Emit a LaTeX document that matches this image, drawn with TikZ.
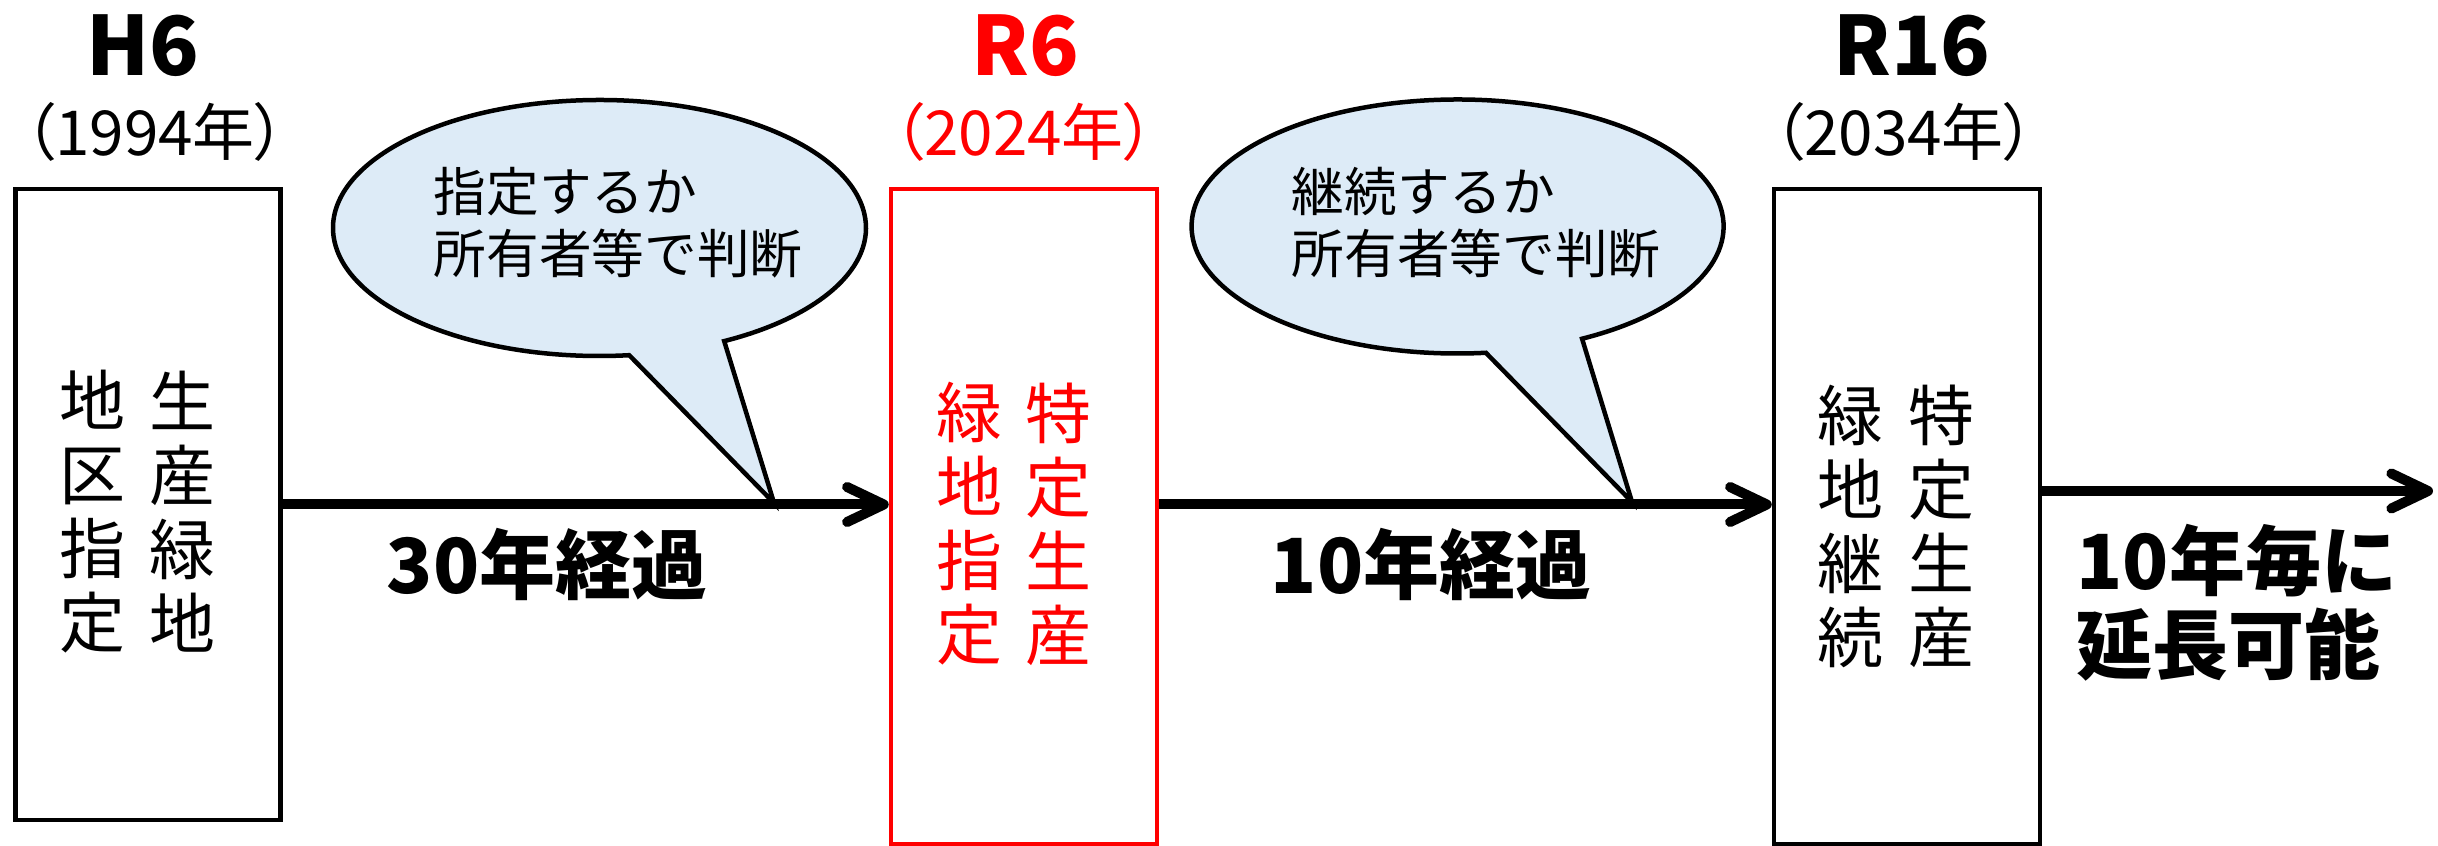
\documentclass[tikz,border=0pt]{standalone}
\usepackage{fontspec}
\setmainfont{Noto Sans CJK JP}
\usetikzlibrary{arrows.meta,calc}
\definecolor{bubblefill}{RGB}{221,235,247}
\definecolor{hired}{RGB}{255,0,0}
\newcommand{\yeartext}[1]{（\kern-0.04em#1年\kern-0.04em）}
\begin{document}
\begin{tikzpicture}[x=0.3pt,y=-0.3pt,
  box/.style={draw, line width=1.35pt, inner sep=0pt},
  vtext/.style={align=center, inner sep=0pt, font=\fontsize{19.8pt}{22.2pt}\selectfont},
  yearlbl/.style={inner sep=0pt, font=\bfseries\fontsize{24.5pt}{28pt}\selectfont},
  datelbl/.style={inner sep=0pt, font=\fontsize{18.6pt}{22pt}\selectfont},
  bubble/.style={draw, line width=1.35pt, fill=bubblefill, line join=miter},
  bubtext/.style={align=left, inner sep=0pt, font=\fontsize{15.8pt}{18.6pt}\selectfont},
  steplbl/.style={inner sep=0pt, font=\bfseries\fontsize{22.8pt}{25.2pt}\selectfont},
  arr/.style={line width=3pt, -{Straight Barb[length=11pt, width=10.5pt, round]}}
]
\useasboundingbox (0,0) rectangle (2438,846);

% boxes
\node[box, minimum width=79.4pt, minimum height=189.3pt] (b1) at (148,504.5) {};
\node[box, draw=hired, minimum width=79.8pt, minimum height=196.5pt] (b2) at (1024,516.5) {};
\node[box, minimum width=79.8pt, minimum height=196.5pt] (b3) at (1907,516.5) {};

% year labels
\node[yearlbl] (y1) at (143,46) {H6};
\node[datelbl] (d1) at (155,132) {\yeartext{1994}};
\node[yearlbl, text=hired] (y2) at (1025,46) {R6};
\node[datelbl, text=hired] (d2) at (1024,132) {\yeartext{2024}};
\node[yearlbl] (y3) at (1912,46) {R16};
\node[datelbl] (d3) at (1904,132) {\yeartext{2034}};

% vertical texts
\node[vtext] (t1r) at (182,512) {生\\産\\緑\\地};
\node[vtext] (t1l) at (92,512) {地\\区\\指\\定};
\node[vtext, text=hired] (t2r) at (1058,524) {特\\定\\生\\産};
\node[vtext, text=hired] (t2l) at (969,524) {緑\\地\\指\\定};
\node[vtext] (t3r) at (1941,526) {特\\定\\生\\産};
\node[vtext] (t3l) at (1850,526) {緑\\地\\継\\続};

% connectors
\coordinate (end3) at (2433,491);
\draw[arr] (b1.east) -- (b2.west |- b1.east);
\draw[arr] (b2.east |- b1.east) -- (b3.west |- b1.east);
\draw[arr] (b3.east |- end3) -- (end3);

% speech bubbles
\coordinate (c1) at (599.5,228);
\coordinate (tip1) at (774,503);
\draw[bubble] ($(c1)+(83.6:266.5 and 128)$) arc[start angle=83.6, end angle=422.1, x radius=266.5, y radius=128] -- (tip1) -- cycle;
\node[bubtext, anchor=west] (q1) at (433,223) {指定するか\\所有者等で判断};

\coordinate (c2) at (1457.6,226.5);
\coordinate (tip2) at (1632,502);
\draw[bubble] ($(c2)+(83.9:266 and 127)$) arc[start angle=83.9, end angle=422.1, x radius=266, y radius=127] -- (tip2) -- cycle;
\node[bubtext, anchor=west] (q2) at (1291,223) {継続するか\\所有者等で判断};

% step labels
\node[steplbl] (s1) at (547,564) {30年経過};
\node[steplbl] (s2) at (1431,564) {10年経過};
\node[steplbl, anchor=west, align=left] (s3) at (2076,603) {10年毎に\\延長可能};
\end{tikzpicture}
\end{document}
